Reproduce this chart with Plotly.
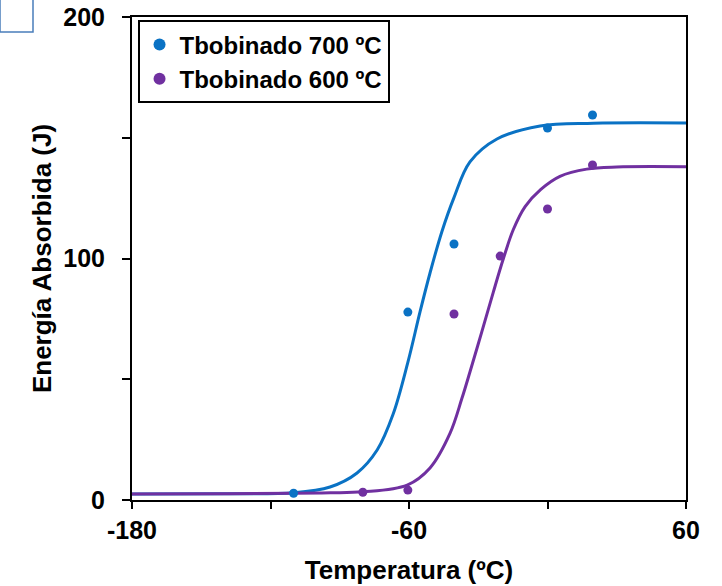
import plotly.graph_objects as go

# Measured data points
t700 = [-110, -60.5, -40.5, 0, 19.5]
e700 = [2.8, 77.8, 106, 154, 159.4]
t600 = [-80, -60.5, -40.5, -20.5, 0, 19.5]
e600 = [3.2, 4.1, 77, 101, 120.5, 138.7]

# Fitted curves
fit700_t = [-180, -140, -110, -94.2, -82.5, -73.8, -66.9, -60.5, -55.2, -50.9, -45.8, -40.6, -33.6, -21.9, -3.2, 20, 60]
fit700_e = [2.5, 2.6, 3.0, 5.4, 11.2, 20.7, 35.5, 57.0, 78.0, 94.0, 111.0, 125.0, 140.0, 149.5, 154.9, 156.0, 156.1]
fit600_t = [-180, -140, -110, -94, -80, -60.8, -50.9, -42.2, -37.1, -33.6, -28.5, -23.5, -19.1, -14.8, -9.7, -3, 5.4, 17, 30, 60]
fit600_e = [2.5, 2.6, 2.8, 3.0, 3.4, 6.2, 13.3, 27.7, 42.0, 53.0, 69.5, 86.0, 100.0, 112.0, 121.5, 128.5, 134.0, 137.0, 137.9, 138.0]

names = ["Tbobinado 700 ºC", "Tbobinado 600 ºC"]
blue = "#0a72c4"
purple = "#7030a0"

xticks = [-180, -120, -60, 0, 60]
xlabels = ["-180", "", "-60", "", "60"]
yticks = [0, 50, 100, 150, 200]
ylabels = ["0", "", "100", "", "200"]

FONT = "Arial, Liberation Sans, sans-serif"

fig = go.Figure()
fig.add_trace(go.Scatter(x=fit700_t, y=fit700_e, mode="lines", line=dict(color=blue, width=3, shape="spline", smoothing=1.0),
                         showlegend=False, hoverinfo="skip"))
fig.add_trace(go.Scatter(x=fit600_t, y=fit600_e, mode="lines", line=dict(color=purple, width=3, shape="spline", smoothing=1.0),
                         showlegend=False, hoverinfo="skip"))
fig.add_trace(go.Scatter(x=t700, y=e700, mode="markers", name=names[0], marker=dict(color=blue, size=9)))
fig.add_trace(go.Scatter(x=t600, y=e600, mode="markers", name=names[1], marker=dict(color=purple, size=9)))

fig.update_layout(
    width=722, height=586,
    margin=dict(l=132, r=36, t=17, b=86),
    paper_bgcolor="white", plot_bgcolor="white",
    font=dict(family=FONT, size=25, color="black"),
    legend=dict(x=0.01, y=0.993, xanchor="left", yanchor="top",
                bordercolor="black", borderwidth=2, bgcolor="white",
                font=dict(family=FONT, size=24, color="black", weight="bold"),
                itemsizing="constant", tracegroupgap=0, itemwidth=30),
    shapes=[dict(type="rect", xref="paper", yref="paper", x0=-132/554, x1=(33-132)/554,
                 y0=1 + (17-32)/483, y1=1 + 18/483, line=dict(color="#4a7ebb", width=1.5))],
)
fig.update_xaxes(range=[-180, 60], tickvals=xticks, ticktext=xlabels, ticks="outside", ticklen=7, tickwidth=2,
                 tickcolor="black", showline=True, linecolor="black", linewidth=2, mirror=True,
                 showgrid=False, zeroline=False, automargin=False,
                 tickfont=dict(family=FONT, size=25, weight="bold"),
                 title=dict(text="Temperatura (ºC)", font=dict(family=FONT, size=26, weight="bold"), standoff=18))
fig.update_yaxes(range=[0, 200], tickvals=yticks, ticktext=ylabels, ticks="outside", ticklen=8, tickwidth=2,
                 tickcolor="black", showline=True, linecolor="black", linewidth=2, mirror=True,
                 showgrid=False, zeroline=False, automargin=False, ticklabelstandoff=12,
                 tickfont=dict(family=FONT, size=25, weight="bold"),
                 title=dict(text="Energía Absorbida (J)", font=dict(family=FONT, size=26, weight="bold"), standoff=4))

fig.write_html("out.html")
